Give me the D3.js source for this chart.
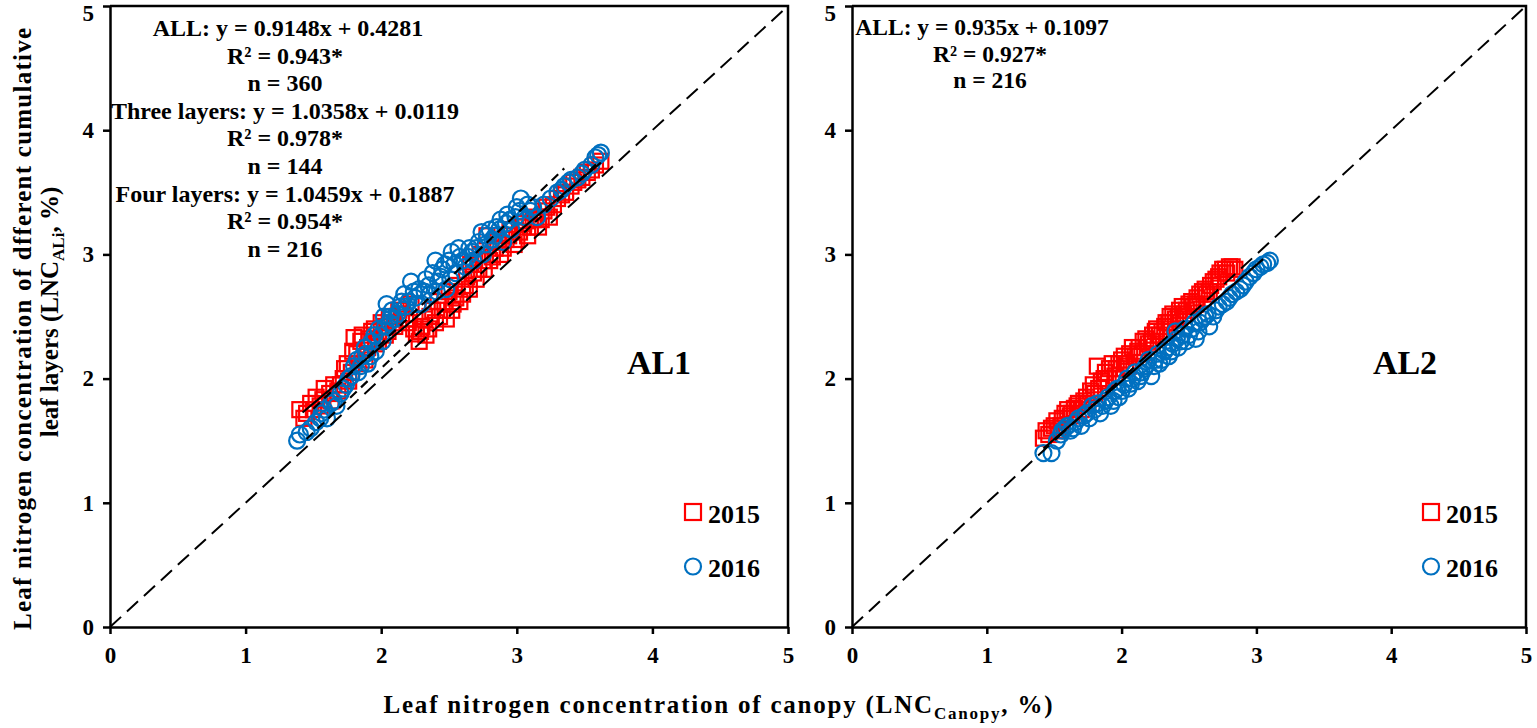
<!DOCTYPE html>
<html>
<head>
<meta charset="utf-8">
<script src="https://cdn.jsdelivr.net/npm/d3@7"></script>
<style>
  body { margin: 0; background: #fff; }
  svg { display: block; font-family: "Liberation Serif", "Times New Roman", serif; font-weight: bold; }
</style>
</head>
<body>
<div id="chart"></div>
<script>
// ---- data ----
const xTicks = [0, 1, 2, 3, 4, 5];
const yTicks = [0, 1, 2, 3, 4, 5];
const years = ['2015', '2016'];

// AL1 panel, [canopy LNC, LNC_ALi]
const al1Pts2015 = [
  [1.40,1.75],[1.45,1.72],[1.48,1.80],[1.52,1.85],[1.55,1.78],[1.58,1.92],[1.62,1.88],[1.65,1.95],
  [1.68,1.90],[1.72,2.00],[1.75,2.12],[1.78,2.05],[1.80,2.33],[1.82,2.20],[1.85,2.30],[1.88,2.15],
  [1.90,2.25],[1.93,2.38],[1.96,2.28],[2.00,2.45],[2.03,2.35],[2.06,2.50],[2.10,2.42],[2.13,2.55],
  [2.18,2.48],[2.22,2.60],[2.26,2.36],[2.28,2.30],[2.30,2.42],[2.33,2.35],[2.36,2.50],[2.40,2.45],
  [2.42,2.62],[2.45,2.55],[2.48,2.48],[2.50,2.70],[2.53,2.60],[2.56,2.75],[2.60,2.68],[2.63,2.82],
  [2.66,2.92],[2.70,2.80],[2.73,3.00],[2.76,2.88],[2.78,3.15],[2.80,2.95],[2.84,3.05],[2.88,3.00],
  [2.92,3.12],[2.95,3.20],[2.98,3.08],[3.02,3.18],[3.05,3.25],[3.08,3.15],[3.12,3.28],[3.16,3.22],
  [3.20,3.35],[3.24,3.30],[3.30,3.45],[3.36,3.50],[3.42,3.58],[3.48,3.62],[3.55,3.68],[3.62,3.75],
  [1.43,1.68],[1.50,1.75],[1.57,1.83],[1.63,1.82],[1.70,1.95],[1.73,2.08],[1.76,1.98],[1.79,2.22],
  [1.83,2.12],[1.86,2.35],[1.91,2.32],[1.95,2.40],[1.98,2.30],[2.02,2.42],[2.05,2.38],[2.08,2.45],
  [2.15,2.52],[2.20,2.45],[2.24,2.40],[2.29,2.38],[2.32,2.48],[2.35,2.40],[2.38,2.55],[2.43,2.50],
  [2.47,2.62],[2.52,2.55],[2.55,2.65],[2.58,2.62],[2.62,2.75],[2.65,2.72],[2.68,2.85],[2.72,2.88],
  [2.75,2.95],[2.82,2.98],[2.86,3.10],[2.90,3.05],[2.94,3.15],[3.00,3.12],[3.04,3.22],[3.10,3.22],
  [3.14,3.30],[3.18,3.28],[3.22,3.38],[3.27,3.40],[3.33,3.48],[3.40,3.55],[3.45,3.60],[3.52,3.66],
  [3.58,3.72]
];
const al1Pts2016 = [
  [1.38,1.50],[1.45,1.57],[1.52,1.65],[1.56,1.72],[1.60,1.68],[1.63,1.80],[1.67,1.78],[1.70,1.88],
  [1.74,1.95],[1.78,2.02],[1.80,2.10],[1.83,2.05],[1.86,2.18],[1.88,2.25],[1.90,2.12],[1.93,2.30],
  [1.96,2.22],[1.98,2.40],[2.00,2.35],[2.02,2.50],[2.04,2.60],[2.06,2.45],[2.08,2.55],[2.12,2.52],
  [2.15,2.62],[2.18,2.58],[2.22,2.78],[2.25,2.65],[2.28,2.72],[2.30,2.60],[2.33,2.80],[2.36,2.68],
  [2.40,2.95],[2.42,2.78],[2.45,2.88],[2.48,2.72],[2.50,2.95],[2.52,3.02],[2.55,2.85],[2.58,2.98],
  [2.62,2.90],[2.65,3.05],[2.68,2.95],[2.72,3.10],[2.75,3.00],[2.78,3.15],[2.82,3.12],[2.85,3.22],
  [2.88,3.28],[2.90,3.10],[2.93,3.32],[2.96,3.20],[3.00,3.38],[3.03,3.45],[3.06,3.30],[3.10,3.35],
  [3.15,3.30],[3.20,3.40],[3.30,3.50],[3.35,3.55],[3.40,3.60],[3.45,3.62],[3.50,3.68],[3.55,3.72],
  [3.60,3.80],[3.62,3.82],
  [1.40,1.55],[1.48,1.60],[1.55,1.68],[1.58,1.75],[1.65,1.82],[1.72,1.92],[1.76,2.00],[1.82,2.15],
  [1.85,2.10],[1.89,2.20],[1.92,2.18],[1.95,2.35],[2.01,2.30],[2.03,2.42],[2.07,2.50],[2.10,2.48],
  [2.14,2.58],[2.17,2.68],[2.20,2.62],[2.24,2.70],[2.27,2.60],[2.32,2.70],[2.35,2.75],[2.38,2.85],
  [2.41,2.70],[2.44,2.82],[2.47,2.92],[2.51,2.80],[2.54,2.92],[2.57,3.05],[2.60,2.95],[2.64,2.98],
  [2.67,3.02],[2.70,3.05],[2.74,3.18],[2.77,3.08],[2.80,3.20],[2.84,3.15],[2.87,3.20],[2.92,3.25],
  [2.95,3.28],[2.99,3.30],[3.02,3.35],[3.08,3.40],[3.12,3.38],[3.25,3.45],[3.33,3.52],[3.38,3.58],
  [3.48,3.65],[3.58,3.78]
];

// AL2 panel
const al2Pts2015 = [
  [1.42,1.52],[1.46,1.55],[1.50,1.62],[1.53,1.58],[1.56,1.68],[1.58,1.72],[1.62,1.70],[1.65,1.76],
  [1.68,1.80],[1.70,1.75],[1.74,1.85],[1.77,1.90],[1.80,1.88],[1.82,2.10],[1.85,1.98],[1.88,2.05],
  [1.90,2.00],[1.93,2.12],[1.96,2.08],[2.00,2.15],[2.03,2.12],[2.06,2.20],[2.10,2.18],[2.13,2.25],
  [2.16,2.30],[2.20,2.28],[2.23,2.35],[2.26,2.40],[2.30,2.38],[2.33,2.45],[2.36,2.50],[2.40,2.48],
  [2.43,2.55],[2.46,2.52],[2.50,2.60],[2.53,2.58],[2.56,2.65],[2.60,2.70],[2.63,2.68],[2.66,2.75],
  [2.70,2.80],[2.73,2.85],[2.77,2.88],[2.80,2.90],[2.84,2.88],
  [1.44,1.58],[1.48,1.60],[1.52,1.66],[1.55,1.62],[1.60,1.75],[1.63,1.72],[1.67,1.78],[1.72,1.82],
  [1.75,1.80],[1.79,1.95],[1.83,1.92],[1.87,2.00],[1.91,2.08],[1.95,2.02],[1.98,2.12],[2.02,2.18],
  [2.05,2.10],[2.08,2.25],[2.12,2.22],[2.15,2.20],[2.18,2.32],[2.22,2.30],[2.25,2.38],[2.28,2.35],
  [2.32,2.42],[2.35,2.45],[2.38,2.52],[2.42,2.50],[2.45,2.58],[2.48,2.55],[2.52,2.62],[2.55,2.60],
  [2.58,2.68],[2.62,2.72],[2.65,2.70],[2.68,2.78],[2.72,2.82],[2.75,2.88],[2.78,2.85],[2.82,2.90]
];
const al2Pts2016 = [
  [1.42,1.40],[1.48,1.40],[1.55,1.55],[1.58,1.60],[1.62,1.58],[1.66,1.65],[1.70,1.62],[1.72,1.70],
  [1.76,1.68],[1.80,1.75],[1.84,1.72],[1.88,1.82],[1.92,1.78],[1.95,1.90],[1.98,1.85],[2.02,1.95],
  [2.05,1.92],[2.08,2.00],[2.12,1.98],[2.15,2.05],[2.18,2.10],[2.22,2.02],[2.25,2.15],[2.28,2.12],
  [2.32,2.22],[2.35,2.18],[2.38,2.28],[2.40,2.38],[2.42,2.25],[2.45,2.35],[2.48,2.30],[2.52,2.40],
  [2.55,2.32],[2.58,2.45],[2.62,2.50],[2.65,2.42],[2.70,2.55],[2.75,2.60],[2.80,2.65],[2.85,2.70],
  [2.90,2.75],[2.95,2.82],[3.00,2.88],[3.05,2.92],[3.10,2.95],
  [1.52,1.50],[1.56,1.58],[1.60,1.62],[1.64,1.60],[1.68,1.68],[1.74,1.72],[1.78,1.78],[1.82,1.80],
  [1.86,1.78],[1.90,1.85],[1.94,1.82],[1.97,1.92],[2.00,1.90],[2.04,2.00],[2.07,1.96],[2.10,2.05],
  [2.14,2.02],[2.17,2.08],[2.20,2.15],[2.24,2.10],[2.27,2.20],[2.30,2.15],[2.34,2.25],[2.37,2.22],
  [2.41,2.32],[2.44,2.30],[2.47,2.40],[2.50,2.35],[2.54,2.45],[2.57,2.38],[2.60,2.48],[2.64,2.52],
  [2.68,2.50],[2.72,2.58],[2.78,2.62],[2.82,2.68],[2.88,2.72],[2.92,2.78],[2.98,2.85],[3.03,2.90],
  [3.08,2.93]
];

// regression lines: slope, intercept, x range, dash style
const al1Fits = [
  { slope: 1.0358, intercept: 0.0119, from: 1.45, to: 3.60, dash: '9,6' },
  { slope: 1.0459, intercept: 0.1887, from: 1.50, to: 3.35, dash: '9,6' },
  { slope: 0.9148, intercept: 0.4281, from: 1.42, to: 3.62, dash: null }
];
const al2Fits = [
  { slope: 0.935, intercept: 0.1097, from: 1.42, to: 3.05, dash: null }
];

const al1Notes = [
  'ALL: y = 0.9148x + 0.4281', 'R² = 0.943*', 'n = 360',
  'Three layers: y = 1.0358x + 0.0119', 'R² = 0.978*', 'n = 144',
  'Four layers: y = 1.0459x + 0.1887', 'R² = 0.954*', 'n = 216'
];
const al2Notes = ['ALL: y = 0.935x + 0.1097', 'R² = 0.927*', 'n = 216'];

// ---- layout ----
const W = 1537, H = 728;
const plotTop = 6, plotBottom = 627;
const RED = '#ff0000', BLUE = '#0070c0';

const svg = d3.select('#chart').append('svg')
  .attr('width', W)
  .attr('height', H);

function drawPanel(cfg) {
  const x = d3.scaleLinear().domain([0, 5]).range([cfg.left, cfg.right]);
  const y = d3.scaleLinear().domain([0, 5]).range([plotBottom, plotTop]);
  const g = svg.append('g');

  // frame (top / right)
  g.append('path')
    .attr('d', `M${cfg.left},${plotTop}H${cfg.right}V${plotBottom}`)
    .attr('fill', 'none')
    .attr('stroke', '#000')
    .attr('stroke-width', 2.5);

  // axes
  const xAxis = g.append('g')
    .attr('transform', `translate(0,${plotBottom})`)
    .call(d3.axisBottom(x).tickValues(xTicks).tickFormat(d3.format('d')).tickSize(7).tickSizeOuter(0).tickPadding(13));
  const yAxis = g.append('g')
    .attr('transform', `translate(${cfg.left},0)`)
    .call(d3.axisLeft(y).tickValues(yTicks).tickFormat(d3.format('d')).tickSize(7).tickSizeOuter(0).tickPadding(9));
  [xAxis, yAxis].forEach((a) => {
    a.select('.domain').attr('stroke-width', 2.5);
    a.selectAll('.tick line').attr('stroke-width', 2.5);
    a.selectAll('.tick text')
      .attr('font-family', '"Liberation Serif", serif')
      .attr('font-weight', 'bold')
      .attr('font-size', 23)
      .attr('fill', '#000');
  });
  // keep the top "5" inside the picture
  yAxis.selectAll('.tick text').filter((d) => d === 5).attr('dy', '0.62em');

  // points
  g.append('g').selectAll('rect')
    .data(cfg.pts2015)
    .enter()
    .append('rect')
    .attr('x', (d) => x(d[0]) - 7.5)
    .attr('y', (d) => y(d[1]) - 7.5)
    .attr('width', 15)
    .attr('height', 15)
    .attr('fill', 'none')
    .attr('stroke', RED)
    .attr('stroke-width', 2.2);

  g.append('g').selectAll('circle')
    .data(cfg.pts2016)
    .enter()
    .append('circle')
    .attr('cx', (d) => x(d[0]))
    .attr('cy', (d) => y(d[1]))
    .attr('r', 8)
    .attr('fill', 'none')
    .attr('stroke', BLUE)
    .attr('stroke-width', 2.2);

  // 1:1 line
  g.append('line')
    .attr('x1', x(0)).attr('y1', y(0))
    .attr('x2', x(5)).attr('y2', y(5))
    .attr('stroke', '#000')
    .attr('stroke-width', 2)
    .attr('stroke-dasharray', '15,8');

  // fitted lines
  g.append('g').selectAll('line')
    .data(cfg.fits)
    .enter()
    .append('line')
    .attr('x1', (d) => x(d.from))
    .attr('y1', (d) => y(d.slope * d.from + d.intercept))
    .attr('x2', (d) => x(d.to))
    .attr('y2', (d) => y(d.slope * d.to + d.intercept))
    .attr('stroke', '#000')
    .attr('stroke-width', 2.2)
    .attr('stroke-dasharray', (d) => d.dash);

  // equations
  g.append('g').selectAll('text')
    .data(cfg.notes)
    .enter()
    .append('text')
    .attr('x', (d, i) => (i === 0 ? cfg.noteX0 : cfg.noteX))
    .attr('y', (d, i) => cfg.noteY + i * cfg.noteStep)
    .attr('text-anchor', 'middle')
    .attr('font-size', cfg.noteSize)
    .text((d) => d);

  // panel label
  g.append('text')
    .attr('x', cfg.labelX)
    .attr('y', 374)
    .attr('text-anchor', 'middle')
    .attr('font-size', 34)
    .text(cfg.label);

  // legend
  const lx = cfg.right - 95;
  const leg = g.append('g');
  leg.append('rect')
    .attr('x', lx - 8).attr('y', 504)
    .attr('width', 16).attr('height', 16)
    .attr('fill', 'none').attr('stroke', RED).attr('stroke-width', 2.2);
  leg.append('circle')
    .attr('cx', lx).attr('cy', 566.5).attr('r', 8)
    .attr('fill', 'none').attr('stroke', BLUE).attr('stroke-width', 2.2);
  leg.selectAll('text')
    .data(years)
    .enter()
    .append('text')
    .attr('x', lx + 15)
    .attr('y', (d, i) => 523 + i * 54)
    .attr('font-size', 26)
    .text((d) => d);
}

drawPanel({
  left: 110, right: 788, pts2015: al1Pts2015, pts2016: al1Pts2016, fits: al1Fits,
  notes: al1Notes, noteX0: 288, noteX: 285, noteY: 36, noteStep: 27.6, noteSize: 24,
  label: 'AL1', labelX: 659
});
drawPanel({
  left: 852, right: 1526, pts2015: al2Pts2015, pts2016: al2Pts2016, fits: al2Fits,
  notes: al2Notes, noteX0: 982, noteX: 990, noteY: 35, noteStep: 26.5, noteSize: 23.5,
  label: 'AL2', labelX: 1405
});

// axis titles
const xTitle = svg.append('text')
  .attr('x', 718)
  .attr('y', 713)
  .attr('text-anchor', 'middle')
  .attr('font-size', 25)
  .attr('textLength', 669)
  .attr('lengthAdjust', 'spacing');
xTitle.append('tspan').text('Leaf nitrogen concentration of canopy (LNC');
xTitle.append('tspan').attr('font-size', 17).attr('dy', 6).text('Canopy');
xTitle.append('tspan').attr('dy', -6).text(', %)');

const yTitle = svg.append('g')
  .attr('transform', 'translate(0,329) rotate(-90)');
yTitle.append('text')
  .attr('x', 0)
  .attr('y', 31)
  .attr('text-anchor', 'middle')
  .attr('font-size', 25)
  .attr('textLength', 602)
  .attr('lengthAdjust', 'spacing')
  .text('Leaf nitrogen concentration of dfferent cumulative');
const yLine2 = yTitle.append('text')
  .attr('x', 17)
  .attr('y', 58)
  .attr('text-anchor', 'middle')
  .attr('font-size', 25);
yLine2.append('tspan').text('leaf layers (LNC');
yLine2.append('tspan').attr('font-size', 17).attr('dy', 6).text('ALi');
yLine2.append('tspan').attr('dy', -6).text(', %)');
</script>
</body>
</html>
